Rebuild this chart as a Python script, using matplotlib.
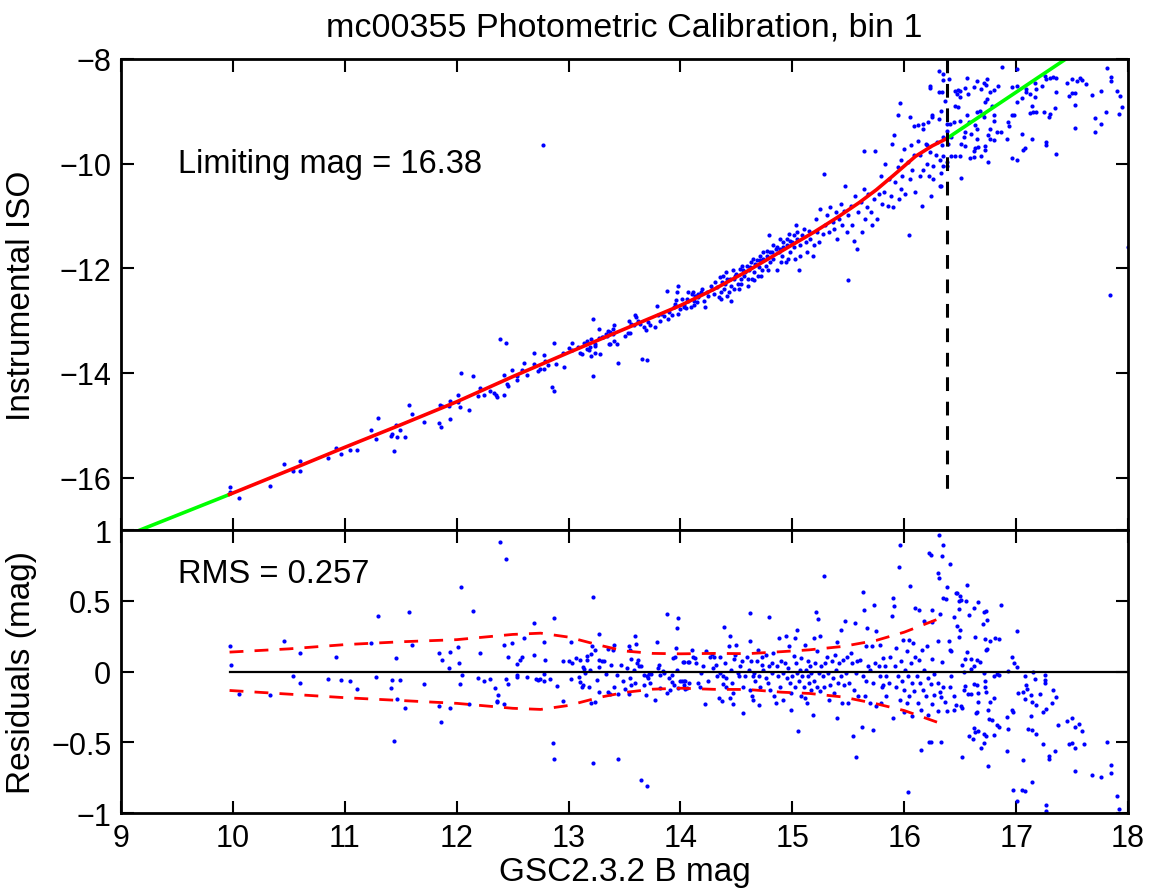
import matplotlib
matplotlib.use("Agg")
import matplotlib.pyplot as plt

plt.rcParams['font.family'] = ['Liberation Sans', 'DejaVu Sans']

# values
lim_mag = 16.38
rms = 0.257

# calibration fit (red) and extrapolation (green)
fit_x = [9.97, 10.5, 11.0, 11.5, 12.0, 12.5, 13.0, 13.5, 14.0, 14.3, 14.6, 15.0,
         15.2, 15.4, 15.6, 15.75, 15.9, 16.1, 16.25, 16.38]
fit_y = [-16.32, -15.86, -15.42, -14.99, -14.55, -14.07, -13.61, -13.16, -12.71,
         -12.40, -12.05, -11.55, -11.30, -11.03, -10.74, -10.50, -10.23, -9.86,
         -9.66, -9.52]
green_lo_x = [9.10, 9.97]
green_lo_y = [-17.06, -16.32]
green_hi_x = [16.38, 17.50]
green_hi_y = [-9.52, -7.92]
dash_bottom = -16.40

# scatter bands in the residual panel
band_x = [9.97, 10.5, 11.0, 11.5, 12.0, 12.5, 12.75, 13.0, 13.28, 13.5, 13.75, 14.0,
          14.3, 14.6, 14.9, 15.15, 15.45, 15.75, 16.0, 16.3]
band_hi = [0.137, 0.16, 0.19, 0.21, 0.225, 0.262, 0.271, 0.243, 0.185, 0.145, 0.128,
           0.125, 0.128, 0.126, 0.14, 0.153, 0.177, 0.22, 0.278, 0.37]
band_lo = [-0.134, -0.16, -0.185, -0.205, -0.225, -0.26, -0.268, -0.24, -0.182, -0.148,
           -0.125, -0.118, -0.126, -0.127, -0.146, -0.155, -0.18, -0.228, -0.276, -0.36]

# stars: catalogue mag vs instrumental mag
stars = [
    (9.97, -16.17), (9.97, -16.28), (10.05, -16.39), (10.33, -16.16), (10.46, -15.74),
    (10.54, -15.88), (10.60, -15.69), (10.60, -15.87), (10.85, -15.63), (10.92, -15.44),
    (10.97, -15.54), (11.05, -15.48), (11.11, -15.48), (11.23, -15.09), (11.28, -15.26),
    (11.30, -14.86), (11.41, -15.21), (11.42, -15.17), (11.44, -15.50), (11.46, -14.99),
    (11.47, -15.23), (11.49, -15.09), (11.54, -15.22), (11.57, -14.61), (11.60, -14.79),
    (11.71, -14.93), (11.84, -14.95), (11.85, -14.62), (11.86, -15.04), (11.87, -14.63),
    (11.93, -14.63), (11.94, -14.88), (11.94, -14.53),
    (12.01, -14.43), (12.01, -14.56), (12.03, -14.65), (12.04, -14.00), (12.11, -14.70),
    (12.15, -14.06), (12.21, -14.28), (12.24, -14.43), (12.19, -14.44), (12.30, -14.35),
    (12.33, -14.39), (12.35, -14.42), (12.36, -14.46), (12.42, -14.03), (12.42, -14.42),
    (12.39, -13.36), (12.44, -13.43), (12.45, -14.21), (12.46, -14.25), (12.49, -13.94),
    (12.54, -14.06), (12.54, -14.13), (12.58, -13.95), (12.60, -13.80), (12.63, -14.04),
    (12.69, -13.62), (12.69, -13.83), (12.73, -13.97), (12.74, -13.92), (12.78, -13.65),
    (12.79, -13.77), (12.78, -13.92), (12.82, -13.85), (12.85, -14.26), (12.87, -14.35),
    (12.87, -13.42), (12.89, -13.83), (12.95, -13.62), (12.96, -13.88), (13.00, -13.53),
    (13.03, -13.43), (13.03, -13.56), (13.08, -13.50), (13.10, -13.61), (13.12, -13.64),
    (13.14, -13.43), (13.16, -13.38), (13.18, -13.57), (13.20, -13.67), (13.20, -13.36),
    (13.22, -14.06), (13.22, -12.97), (13.24, -13.62), (13.24, -13.44), (13.27, -13.16),
    (13.27, -13.33), (13.30, -13.32), (13.33, -13.25), (13.35, -13.19), (13.37, -13.44),
    (13.40, -13.25), (13.41, -13.09), (13.43, -13.44), (13.44, -13.81), (12.77, -9.64),
    (13.16, -13.54), (13.19, -13.51), (13.24, -13.48), (13.31, -13.32), (13.34, -13.29),
    (13.37, -13.22), (13.40, -13.16), (13.41, -13.38), (13.36, -13.44), (13.28, -13.64),
    (13.50, -13.30), (13.53, -13.23), (13.54, -13.00), (13.55, -13.23), (13.56, -13.06),
    (13.58, -13.09), (13.59, -12.90), (13.60, -12.93), (13.62, -13.00), (13.64, -13.06),
    (13.66, -13.74), (13.70, -13.76), (13.67, -13.13), (13.69, -13.17), (13.71, -13.03),
    (13.73, -13.08), (13.77, -13.13), (13.79, -12.72), (13.80, -12.90), (13.82, -13.00),
    (13.83, -12.87), (13.85, -12.92), (13.88, -12.43), (13.89, -12.97), (13.90, -12.84),
    (13.92, -12.90), (13.94, -12.74), (13.95, -12.68), (13.96, -12.60), (13.97, -12.45),
    (13.98, -12.34), (13.98, -12.87), (14.00, -12.78), (14.03, -12.74), (14.05, -12.76),
    (14.07, -12.62), (14.09, -12.74), (14.11, -12.46), (14.12, -12.71), (14.14, -12.52),
    (14.16, -12.49),
    (14.03, -12.71), (14.06, -12.58), (14.10, -12.49), (14.13, -12.52), (14.15, -12.65),
    (14.18, -12.46), (14.21, -12.62), (14.22, -12.74), (14.25, -12.52), (14.28, -12.39),
    (14.30, -12.49), (14.33, -12.36), (14.34, -12.55), (14.36, -12.46), (14.37, -12.26),
    (14.39, -12.39), (14.40, -12.30), (14.42, -12.20), (14.43, -12.46), (14.45, -12.33),
    (14.45, -12.62), (14.48, -12.20), (14.49, -12.14), (14.51, -12.30), (14.52, -12.39),
    (14.54, -12.20), (14.55, -11.95), (14.57, -12.14), (14.58, -12.07), (14.60, -12.20),
    (14.61, -12.04), (14.63, -11.88), (14.64, -12.20), (14.66, -12.07), (14.67, -11.91),
    (14.69, -12.14), (14.70, -11.98), (14.71, -11.85), (14.73, -12.04), (14.74, -11.82),
    (14.76, -11.95), (14.77, -11.76), (14.79, -11.37), (14.80, -11.88), (14.82, -11.69),
    (14.83, -11.82), (14.85, -11.63), (14.86, -12.04), (14.88, -11.69), (14.89, -11.44),
    (14.91, -11.76), (14.92, -11.60), (14.94, -11.88), (14.95, -11.56), (14.97, -11.34),
    (14.98, -11.69), (15.00, -11.50), (15.01, -11.60), (15.03, -11.18), (15.04, -11.44),
    (15.06, -12.04), (15.07, -11.76), (15.07, -11.56), (15.09, -11.37), (15.10, -11.25),
    (15.12, -11.50), (15.13, -11.69), (15.15, -11.28), (15.16, -11.44), (15.18, -11.76),
    (15.19, -11.56), (15.21, -11.06), (15.22, -11.31), (15.24, -11.50), (15.25, -10.86),
    (15.27, -11.34), (15.28, -10.20), (15.29, -11.18), (15.31, -10.99), (15.33, -11.31),
    (15.34, -10.83), (15.36, -11.12), (15.37, -11.25), (15.39, -10.93), (15.40, -11.44),
    (15.42, -11.06), (15.43, -10.77), (15.44, -11.18), (15.46, -10.90), (15.47, -10.42),
    (15.49, -11.31), (15.50, -12.23), (15.50, -10.99), (15.52, -10.80), (15.53, -11.18),
    (15.55, -11.47), (15.56, -10.61), (15.58, -11.63), (15.59, -10.93), (15.61, -10.74),
    (15.62, -11.31), (15.64, -10.48), (15.64, -9.75), (15.65, -11.06), (15.67, -10.83),
    (15.68, -10.58), (15.70, -10.93), (15.71, -11.18), (15.73, -10.67), (15.74, -9.75),
    (15.76, -11.06), (15.77, -10.58), (15.79, -10.23), (15.80, -10.77), (15.82, -10.55),
    (15.83, -10.00), (15.85, -10.80), (15.86, -10.29), (15.88, -10.61), (15.89, -9.62),
    (15.90, -10.83), (15.91, -9.46), (15.92, -10.35), (15.94, -10.07), (15.95, -10.67),
    (15.96, -8.84), (15.97, -10.48), (15.97, -9.94), (15.98, -10.23), (16.00, -9.72),
    (16.01, -10.58), (16.03, -9.97), (16.04, -11.37), (16.05, -10.29), (16.06, -9.65),
    (16.07, -10.13), (16.09, -9.84), (16.10, -10.55), (16.12, -9.27), (16.12, -9.56),
    (16.14, -10.23), (16.14, -9.84), (16.16, -10.80), (16.17, -9.34), (16.17, -10.13),
    (16.19, -9.62), (16.20, -9.65), (16.20, -10.00), (16.21, -9.21), (16.22, -10.23),
    (16.23, -9.78), (16.24, -10.61), (16.25, -9.08), (16.26, -10.04), (16.26, -10.29),
    (16.28, -9.84), (16.29, -9.59), (16.31, -9.14), (16.32, -10.42), (16.32, -9.94),
    (16.34, -9.65), (16.35, -10.04), (16.38, -9.37), (16.23, -8.51), (16.31, -8.63),
    (16.35, -8.41),
    (14.01, -12.58), (14.07, -12.46), (14.12, -12.62), (14.16, -12.55), (14.19, -12.39),
    (14.24, -12.46), (14.27, -12.33), (14.31, -12.26), (14.35, -12.17), (14.38, -12.14),
    (14.41, -12.07), (14.44, -12.20), (14.47, -12.04), (14.50, -12.11), (14.53, -12.01),
    (14.56, -12.04), (14.59, -11.95), (14.62, -11.98), (14.65, -11.82), (14.68, -11.85),
    (14.71, -11.76), (14.74, -11.69), (14.77, -11.66), (14.80, -11.69), (14.83, -11.56),
    (14.86, -11.60), (14.89, -11.63), (14.92, -11.50), (14.95, -11.44), (14.98, -11.47),
    (15.01, -11.37), (15.04, -11.31), (15.02, -11.82), (14.96, -11.82), (14.90, -11.88),
    (14.78, -12.04), (14.72, -12.14), (14.66, -12.23), (14.60, -12.33), (14.54, -12.30),
    (14.48, -12.39), (14.42, -12.52), (14.36, -12.58),
    (15.94, -9.08), (16.05, -9.11), (16.09, -9.28), (16.17, -9.25), (16.25, -9.11),
    (16.23, -8.55), (16.31, -8.23),
    (16.35, -8.29), (16.40, -8.38), (16.34, -8.64), (16.36, -8.80), (16.33, -8.99),
    (16.38, -9.24), (16.41, -9.24), (16.35, -9.50), (16.42, -9.50), (16.39, -9.62),
    (16.35, -9.85), (16.38, -9.97), (16.38, -10.04), (16.33, -10.17), (16.33, -10.42),
    (16.51, -10.28), (16.45, -8.61), (16.48, -8.59), (16.50, -8.61), (16.47, -8.67),
    (16.50, -8.73), (16.54, -8.56), (16.56, -8.37), (16.57, -8.67), (16.62, -8.54),
    (16.65, -8.43), (16.69, -8.57), (16.71, -8.45), (16.73, -8.50), (16.74, -8.38),
    (16.77, -8.64), (16.80, -8.59), (16.84, -8.51), (16.87, -8.15), (16.96, -8.54),
    (17.01, -8.20), (17.01, -8.51), (17.01, -8.82), (17.05, -8.75), (17.09, -8.57),
    (17.09, -8.64), (17.12, -8.67), (17.17, -8.46), (17.17, -8.73), (17.18, -8.57),
    (17.23, -8.51), (17.26, -8.33), (17.27, -8.38), (17.30, -8.37), (17.33, -8.35),
    (17.36, -8.37), (17.36, -8.64), (17.45, -8.46), (17.47, -8.70), (17.50, -8.39),
    (17.50, -8.65), (17.53, -8.65), (17.54, -8.43), (17.57, -8.36), (17.59, -8.41),
    (17.62, -8.48), (17.68, -8.69), (17.76, -8.61), (17.81, -8.18), (17.85, -8.35),
    (17.85, -8.43), (17.90, -8.61), (17.93, -8.70), (17.95, -8.92), (17.92, -9.05),
    (17.80, -9.02), (17.76, -9.24), (17.70, -9.39), (17.70, -9.13), (17.53, -8.88),
    (17.53, -9.32), (17.35, -8.94), (17.30, -9.05), (17.29, -9.10), (17.25, -9.01),
    (17.18, -9.01), (17.15, -9.01), (17.12, -9.03), (17.14, -8.89), (17.14, -9.53),
    (17.05, -9.43), (16.98, -9.08), (16.96, -9.08), (16.93, -9.20), (16.94, -9.29),
    (16.92, -9.53), (16.86, -9.39), (16.83, -9.40), (16.80, -9.07), (16.80, -9.18),
    (16.78, -8.89), (16.77, -9.34), (16.75, -9.45), (16.74, -8.76), (16.72, -8.82),
    (16.71, -9.11), (16.70, -9.05), (16.68, -8.99), (16.65, -9.02), (16.63, -9.26),
    (16.65, -9.34), (16.65, -9.53), (16.66, -9.69), (16.63, -9.71), (16.62, -9.75),
    (16.60, -9.43), (16.58, -9.21), (16.56, -9.07), (16.54, -9.40), (16.53, -9.50),
    (16.51, -9.62), (16.50, -9.18), (16.48, -8.92), (16.45, -8.89), (16.44, -9.20),
    (16.42, -9.85), (16.45, -9.86), (16.50, -9.85), (16.54, -9.67), (16.59, -9.90),
    (16.62, -9.87), (16.69, -9.85), (16.72, -9.66), (16.72, -9.74), (16.75, -9.97),
    (16.77, -9.53), (16.80, -9.54), (16.96, -9.89), (17.01, -9.93), (17.06, -9.73),
    (17.08, -9.71), (17.27, -9.59), (17.27, -9.64), (17.36, -9.82), (17.84, -12.51),
    (18.00, -11.60),
]

# residuals of the same stars
resid = [
    (9.97, 0.18), (9.98, 0.043), (10.05, -0.157), (10.33, -0.164), (10.46, 0.217),
    (10.54, -0.035), (10.60, 0.13), (10.60, -0.082), (10.85, -0.054), (10.92, 0.104),
    (10.97, -0.063), (11.05, -0.066), (11.11, -0.124), (11.23, 0.203), (11.28, -0.04),
    (11.30, 0.394), (11.41, -0.115), (11.42, -0.063), (11.44, -0.492), (11.46, 0.092),
    (11.47, -0.197), (11.49, -0.058), (11.54, -0.256), (11.57, 0.417), (11.60, 0.184),
    (11.71, -0.089), (11.84, -0.245), (11.84, 0.128), (11.86, -0.36), (11.87, 0.083),
    (11.93, 0.024), (11.94, 0.137), (11.94, -0.259), (12.01, 0.175), (12.02, 0.062),
    (12.03, -0.087), (12.04, 0.596), (12.05, -0.028), (12.11, -0.228), (12.15, 0.429),
    (12.19, -0.047), (12.21, 0.13), (12.24, -0.066), (12.30, -0.054), (12.34, -0.12),
    (12.37, -0.169), (12.36, -0.205), (12.36, -0.216), (12.39, 0.914), (12.42, 0.189),
    (12.42, -0.233), (12.44, 0.792), (12.44, -0.051), (12.46, 0.099), (12.46, -0.091),
    (12.49, 0.198), (12.54, 0.055), (12.54, -0.04), (12.54, -0.028), (12.57, 0.078),
    (12.58, 0.099), (12.60, 0.234), (12.63, -0.042), (12.69, 0.344), (12.69, 0.118),
    (12.71, -0.051), (12.73, -0.063), (12.74, -0.054), (12.78, 0.208), (12.78, -0.021),
    (12.78, -0.066), (12.79, 0.083), (12.83, -0.051), (12.86, -0.504), (12.87, 0.38),
    (12.87, -0.617), (12.90, -0.099), (12.95, 0.073), (12.95, -0.205), (13.00, 0.073),
    (13.02, 0.208), (13.02, -0.051), (13.03, 0.057), (13.07, 0.095), (13.09, -0.04),
    (13.10, 0.078), (13.10, -0.075), (13.12, -0.106), (13.13, 0.031), (13.13, -0.096),
    (13.14, 0.015), (13.15, -0.011), (13.16, 0.078), (13.16, 0.109), (13.18, -0.106),
    (13.19, 0.012), (13.20, 0.125), (13.20, -0.223), (13.21, 0.179), (13.22, 0.526),
    (13.22, -0.647), (13.24, 0.149), (13.24, -0.219), (13.25, -0.063), (13.27, 0.267),
    (13.27, -0.146), (13.27, 0.031), (13.27, 0.078), (13.30, 0.073), (13.32, 0.073),
    (13.33, -0.016), (13.35, 0.156), (13.35, -0.148), (13.37, -0.157), (13.38, 0.043),
    (13.40, 0.149), (13.41, 0.184), (13.41, -0.11), (13.43, -0.028), (13.44, -0.617),
    (13.44, -0.157),
    (13.47, 0.043), (13.49, -0.07), (13.50, -0.125), (13.52, 0.028), (13.54, 0.177),
    (13.54, -0.158), (13.55, 0.153), (13.55, -0.047), (13.56, 0.087), (13.56, -0.094),
    (13.58, 0.012), (13.59, 0.248), (13.59, -0.082), (13.60, 0.193), (13.61, 0.059),
    (13.62, 0.078), (13.63, 0.036), (13.65, 0.036), (13.67, -0.096), (13.67, -0.023),
    (13.69, -0.165), (13.70, -0.035), (13.70, -0.812), (13.65, -0.765), (13.71, -0.047),
    (13.72, -0.019), (13.73, -0.082), (13.74, -0.016), (13.77, -0.2), (13.79, 0.208),
    (13.80, 0.024), (13.81, 0.047), (13.82, -0.118), (13.82, -0.023), (13.84, 0.007),
    (13.85, -0.012), (13.88, 0.405), (13.88, -0.153), (13.90, -0.047), (13.91, -0.134),
    (13.92, -0.028), (13.92, -0.075), (13.93, 0.094), (13.94, -0.094), (13.95, 0.099),
    (13.96, 0.163), (13.97, 0.309), (13.97, 0.012), (13.98, -0.118), (13.98, 0.377),
    (14.00, -0.07), (14.01, -0.07), (14.03, -0.094), (14.03, 0.066), (14.04, -0.07),
    (14.06, -0.12), (14.07, 0.064), (14.08, -0.082),
    (14.02, 0.064), (14.03, -0.07), (14.04, -0.122), (14.08, 0.064), (14.10, 0.153),
    (14.11, 0.106), (14.13, 0.094), (14.14, 0.059), (14.16, -0.082), (14.17, -0.106),
    (14.18, -0.012), (14.20, 0.036), (14.22, -0.228), (14.23, 0.148), (14.25, -0.07),
    (14.26, 0.106), (14.28, 0.125), (14.29, 0.024), (14.30, 0.106), (14.32, 0.047),
    (14.33, -0.035), (14.34, -0.188), (14.35, 0.106), (14.35, -0.012), (14.37, -0.207),
    (14.38, -0.035), (14.38, -0.087), (14.39, 0.311), (14.40, 0.059), (14.41, -0.047),
    (14.41, -0.106), (14.43, 0.177), (14.44, -0.188), (14.44, 0.248), (14.45, 0.012),
    (14.46, -0.082), (14.47, -0.228), (14.47, -0.153), (14.48, 0.087), (14.49, 0.118),
    (14.50, 0.189), (14.51, -0.012), (14.52, -0.035), (14.53, 0.036), (14.55, 0.071),
    (14.56, -0.294), (14.56, -0.106), (14.58, -0.035), (14.59, 0.106), (14.61, 0.012),
    (14.62, 0.412), (14.62, 0.219), (14.62, -0.129), (14.63, 0.071), (14.64, -0.176),
    (14.65, -0.035), (14.65, -0.2), (14.66, -0.012), (14.67, -0.07), (14.68, 0.071),
    (14.69, 0.153), (14.70, -0.24), (14.70, -0.035), (14.71, -0.106), (14.73, 0.047),
    (14.73, 0.106), (14.74, 0.012), (14.76, -0.047), (14.76, 0.118), (14.78, -0.082),
    (14.79, 0.384), (14.79, 0.036), (14.80, -0.129), (14.82, -0.012), (14.82, 0.059),
    (14.83, 0.13), (14.84, -0.176), (14.85, -0.224), (14.86, 0.036), (14.87, -0.035),
    (14.88, 0.24), (14.89, -0.106), (14.90, 0.071), (14.92, -0.012), (14.92, -0.2),
    (14.93, 0.059), (14.94, 0.252), (14.95, -0.047), (14.96, 0.024), (14.97, 0.177),
    (14.98, -0.082), (14.99, -0.153), (14.99, -0.271), (15.00, -0.035), (15.01, 0.111),
    (15.02, 0.24), (15.02, -0.106), (15.03, 0.059), (15.04, -0.012), (15.04, 0.295),
    (15.05, -0.417), (15.06, -0.07), (15.07, 0.012), (15.08, -0.176), (15.08, 0.094),
    (15.09, -0.035), (15.10, -0.106), (15.11, 0.189), (15.11, -0.188), (15.12, 0.012),
    (15.13, -0.224), (15.14, -0.035), (15.14, 0.071), (15.15, -0.082), (15.16, 0.036),
    (15.17, -0.129), (15.17, -0.012), (15.18, -0.306), (15.19, 0.236), (15.19, -0.07),
    (15.20, 0.059), (15.21, 0.424), (15.22, -0.106), (15.22, 0.142), (15.23, 0.37),
    (15.24, -0.012), (15.25, 0.252), (15.25, -0.141), (15.26, 0.036), (15.27, -0.035),
    (15.28, 0.672), (15.28, -0.106), (15.29, 0.059), (15.31, 0.106), (15.32, -0.012),
    (15.33, -0.2), (15.34, -0.094), (15.35, 0.071), (15.36, -0.047), (15.37, -0.153),
    (15.38, 0.118), (15.39, 0.012), (15.40, 0.212), (15.40, -0.33), (15.41, -0.082),
    (15.42, 0.059), (15.43, 0.295), (15.43, -0.035), (15.44, -0.224), (15.45, 0.083),
    (15.46, -0.094), (15.47, 0.354), (15.48, -0.012), (15.49, 0.106), (15.50, -0.224),
    (15.51, -0.082), (15.52, 0.13), (15.53, 0.059), (15.54, -0.455), (15.55, -0.129),
    (15.56, 0.342), (15.57, -0.012), (15.57, -0.601), (15.58, 0.071), (15.59, -0.176),
    (15.60, 0.083), (15.62, -0.393), (15.63, -0.035), (15.63, 0.559), (15.64, 0.436),
    (15.65, -0.176), (15.66, 0.177), (15.66, -0.07), (15.67, 0.307), (15.68, 0.036),
    (15.69, 0.012), (15.69, -0.224), (15.71, 0.177), (15.72, -0.413), (15.72, -0.082),
    (15.73, 0.471), (15.74, 0.059), (15.75, 0.283), (15.75, -0.247), (15.77, 0.036),
    (15.78, -0.035), (15.78, 0.189), (15.79, -0.224), (15.80, -0.106), (15.81, -0.094),
    (15.81, 0.094), (15.83, 0.036), (15.84, -0.035), (15.84, -0.176), (15.86, -0.082),
    (15.87, 0.106), (15.89, 0.393), (15.90, 0.518), (15.90, -0.33), (15.91, 0.464),
    (15.92, 0.036), (15.93, -0.106), (15.93, 0.165), (15.94, -0.035), (15.95, 0.742),
    (15.96, 0.895), (15.96, -0.2), (15.97, 0.071), (15.98, -0.07), (15.99, 0.224),
    (16.00, -0.129), (16.00, -0.283), (16.01, 0.012), (16.02, 0.142), (16.02, -0.224),
    (16.03, -0.035), (16.03, -0.855), (16.04, 0.224), (16.04, -0.176), (16.05, 0.606),
    (16.06, 0.059), (16.07, -0.082), (16.07, -0.318), (16.08, 0.2), (16.09, -0.141),
    (16.10, 0.448), (16.10, 0.106), (16.11, -0.035), (16.12, -0.224), (16.13, 0.436),
    (16.13, 0.083), (16.14, -0.082), (16.15, -0.271), (16.15, -0.554), (16.16, 0.153),
    (16.17, -0.129), (16.18, 0.354), (16.18, 0.012), (16.19, -0.176), (16.20, 0.177),
    (16.21, -0.306), (16.21, -0.047), (16.22, 0.841), (16.22, -0.5),
    (16.31, 0.966), (16.35, 0.895), (16.24, 0.82), (16.34, 0.813), (16.41, 0.763),
    (16.30, 0.693), (16.31, 0.662), (16.38, 0.598), (16.35, 0.52), (16.37, 0.511),
    (16.56, 0.612), (16.46, 0.553), (16.47, 0.558), (16.50, 0.537), (16.49, 0.495),
    (16.51, 0.502), (16.55, 0.5), (16.66, 0.488), (16.86, 0.469), (16.62, 0.45),
    (16.73, 0.431), (16.71, 0.417), (16.49, 0.443), (16.58, 0.396), (16.44, 0.382),
    (16.32, 0.408), (16.25, 0.436), (16.25, 0.353), (16.47, 0.325), (16.50, 0.292),
    (16.74, 0.361), (16.70, 0.339), (16.63, 0.245), (16.49, 0.243), (16.72, 0.229),
    (16.77, 0.219), (16.81, 0.238), (16.85, 0.231), (17.01, 0.283), (16.40, 0.217),
    (16.30, 0.215), (16.41, 0.149), (16.42, 0.144), (16.56, 0.137), (16.74, 0.16),
    (16.73, 0.153), (16.25, 0.085), (16.34, 0.066), (16.54, 0.085), (16.60, 0.085),
    (16.65, 0.083), (16.68, 0.069), (16.62, 0.036), (16.60, 0.017), (16.52, 0.045),
    (16.96, 0.099), (16.98, 0.059), (17.01, 0.029), (16.93, 0.007), (16.27, -0.019),
    (16.42, -0.035), (16.53, 0.0), (16.71, -0.014), (16.83, -0.016), (16.85, -0.028),
    (17.08, -0.035), (17.15, -0.007), (17.26, -0.023), (17.26, -0.063), (17.26, -0.082),
    (17.09, -0.094), (17.10, -0.125), (17.17, -0.054), (17.06, -0.148), (17.02, -0.153),
    (17.21, -0.16), (17.18, -0.24), (17.13, -0.165), (17.13, -0.318), (17.27, -0.264),
    (17.24, -0.283), (17.33, -0.129), (17.36, -0.181), (17.32, -0.224), (17.14, -0.212),
    (17.08, -0.195), (16.24, -0.089), (16.30, -0.082), (16.35, -0.106), (16.41, -0.106),
    (16.32, -0.148), (16.27, -0.165), (16.25, -0.231), (16.33, -0.181), (16.36, -0.212),
    (16.44, -0.176), (16.30, -0.282), (16.38, -0.282), (16.44, -0.273), (16.46, -0.235),
    (16.51, -0.247), (16.52, -0.259), (16.53, -0.129), (16.54, -0.101), (16.57, -0.16),
    (16.60, -0.158), (16.62, -0.089), (16.65, -0.096), (16.66, -0.153), (16.64, -0.294),
    (16.65, -0.287), (16.66, -0.212), (16.72, -0.07), (16.72, -0.106), (16.73, -0.146),
    (16.80, -0.035), (16.80, -0.188), (16.77, -0.212), (16.75, -0.275), (16.78, -0.341),
    (16.76, -0.337), (16.83, -0.379), (16.85, -0.393), (16.62, -0.4), (16.63, -0.431),
    (16.66, -0.417), (16.58, -0.459), (16.61, -0.476), (16.71, -0.44), (16.73, -0.455),
    (16.71, -0.507), (16.69, -0.542), (16.80, -0.447), (16.96, -0.271), (16.97, -0.287),
    (16.92, -0.325), (16.93, -0.407), (17.11, -0.405), (17.14, -0.412), (17.18, -0.443),
    (17.24, -0.51), (17.37, -0.377), (17.45, -0.349), (17.50, -0.33), (17.53, -0.389),
    (17.56, -0.37), (17.59, -0.424), (17.50, -0.506), (17.47, -0.513), (17.53, -0.541),
    (17.61, -0.513), (17.81, -0.499), (17.35, -0.561), (17.29, -0.594), (17.29, -0.62),
    (17.06, -0.627), (16.92, -0.559), (16.75, -0.666), (16.52, -0.605), (16.24, -0.499),
    (16.33, -0.499), (17.53, -0.704), (17.68, -0.733), (17.76, -0.747), (17.85, -0.66),
    (17.85, -0.714), (17.90, -0.879), (17.92, -0.973), (17.14, -0.78), (17.05, -0.834),
    (17.08, -0.843), (16.97, -0.838), (17.01, -0.913), (17.27, -0.944), (17.27, -0.989),
]

star_x = [p[0] for p in stars]
star_y = [p[1] for p in stars]
res_x = [p[0] for p in resid]
res_y = [p[1] for p in resid]

FS = 23
fig = plt.figure(figsize=(11.57, 8.95), dpi=100)
ax1 = fig.add_axes([0.1046, 0.4067, 0.8704, 0.5263])
ax2 = fig.add_axes([0.1046, 0.0905, 0.8704, 0.3162])

# top panel
ax1.plot(star_x, star_y, 'o', color=(0, 0, 1), ms=3.0, mew=0)
ax1.plot(green_lo_x, green_lo_y, color=(0, 1, 0), lw=2.6)
ax1.plot(green_hi_x, green_hi_y, color=(0, 1, 0), lw=2.6)
ax1.plot(fit_x, fit_y, color=(1, 0, 0), lw=2.6)
ax1.plot([lim_mag, lim_mag], [-8, dash_bottom], color='k', lw=2.2, dashes=(4.5, 3.5))
ax1.text(9.51, -10.0, f'Limiting mag = {lim_mag:.2f}', fontsize=FS + 0.5, va='center')
ax1.set_xlim(9, 18)
ax1.set_ylim(-17, -8)
ax1.set_yticks([-16, -14, -12, -10, -8])
ax1.set_ylabel('Instrumental ISO', fontsize=FS + 1)
ax1.set_title('mc00355 Photometric Calibration, bin 1', fontsize=FS + 1.5, pad=17)

# residual panel
ax2.plot(res_x, res_y, 'o', color=(0, 0, 1), ms=3.0, mew=0)
ax2.plot([fit_x[0], 18], [0, 0], color='k', lw=1.6)
ax2.plot(band_x, band_hi, color=(1, 0, 0), lw=2, dashes=(5, 4))
ax2.plot(band_x, band_lo, color=(1, 0, 0), lw=2, dashes=(5, 4))
ax2.text(9.51, 0.69, f'RMS = {rms:.3f}', fontsize=FS + 0.5, va='center')
ax2.set_xlim(9, 18)
ax2.set_ylim(-1, 1)
ax2.set_yticks([-1, -0.5, 0, 0.5, 1])
ax2.set_yticklabels(['\u22121', '\u22120.5', '0', '0.5', '1'])
ax2.set_xlabel('GSC2.3.2 B mag', fontsize=FS + 1, labelpad=2)
ax2.set_ylabel('Residuals (mag)', fontsize=FS + 1)

for ax in (ax1, ax2):
    ax.set_xticks(range(9, 19))
    ax.tick_params(direction='in', top=True, right=True, length=9, width=1.5,
                   labelsize=FS - 1, pad=7)
    for s in ax.spines.values():
        s.set_linewidth(2)
    ax.yaxis.set_label_coords(-0.083, 0.5)
ax1.tick_params(labelbottom=False)

fig.savefig('out.png', dpi=100)
